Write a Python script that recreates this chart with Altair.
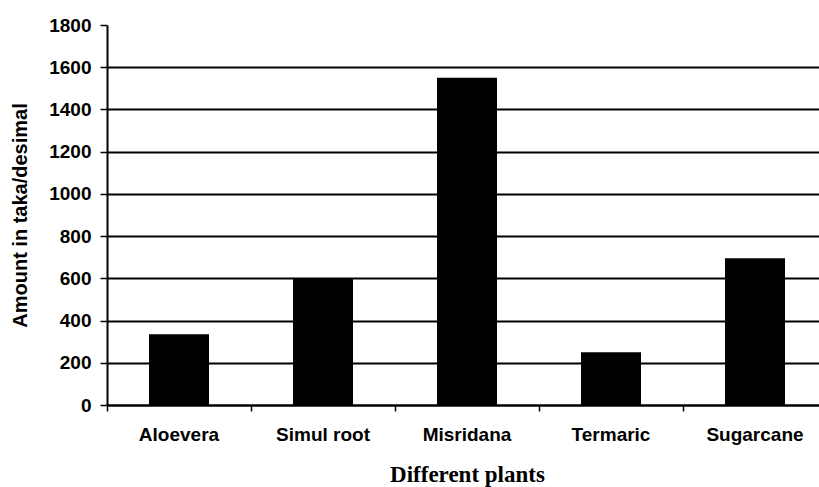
import altair as alt
import pandas as pd

# Cost of each plant, taka per desimal
plants = ["Aloevera", "Simul root", "Misridana", "Termaric", "Sugarcane"]
amounts = [335, 600, 1550, 250, 695]
y_ticks = [0, 200, 400, 600, 800, 1000, 1200, 1400, 1600, 1800]

df = pd.DataFrame({"plant": plants, "amount": amounts})

SANS = "Liberation Sans"
SERIF = "Liberation Serif"

bars = alt.Chart(df).mark_bar(color="#000000", size=60).encode(
    x=alt.X(
        "plant:N",
        sort=plants,
        scale=alt.Scale(paddingInner=0, paddingOuter=0, range=[0, 720]),
        axis=alt.Axis(
            title="Different plants",
            titleFont=SERIF,
            titleFontSize=23,
            titleFontWeight="bold",
            titleColor="#000000",
            titlePadding=19,
            labelFont=SANS,
            labelFontSize=19,
            labelFontWeight="bold",
            labelColor="#000000",
            labelAngle=0,
            labelPadding=14,
            bandPosition=0,
            domain=False,
            ticks=True,
            tickColor="#000000",
            tickWidth=1.5,
            tickSize=6,
        ),
    ),
    y=alt.Y(
        "amount:Q",
        scale=alt.Scale(domain=[0, 1800], nice=False),
        axis=alt.Axis(
            values=y_ticks,
            format="d",
            title="Amount in taka/desimal",
            titleFont=SANS,
            titleFontSize=20,
            titleFontWeight="bold",
            titleColor="#000000",
            titlePadding=18,
            labelFont=SANS,
            labelFontSize=19,
            labelFontWeight="bold",
            labelColor="#000000",
            labelPadding=9,
            domainColor="#000000",
            domainWidth=2,
            tickColor="#000000",
            tickWidth=1.5,
            tickSize=7,
            grid=True,
            gridColor="#000000",
            gridWidth={"condition": {"test": "datum.value == 0", "value": 2.4}, "value": 1.8},
            gridOpacity={"condition": {"test": "datum.value >= 1800", "value": 0}, "value": 1},
        ),
    ),
)

chart = bars.properties(
    width=712,
    height=380,
    autosize=alt.AutoSizeParams(type="none"),
    padding={"left": 107, "top": 25, "right": 0, "bottom": 82},
    background="#ffffff",
).configure_view(stroke=None)

chart.save("out.html", embed_options={"renderer": "svg", "actions": False})
